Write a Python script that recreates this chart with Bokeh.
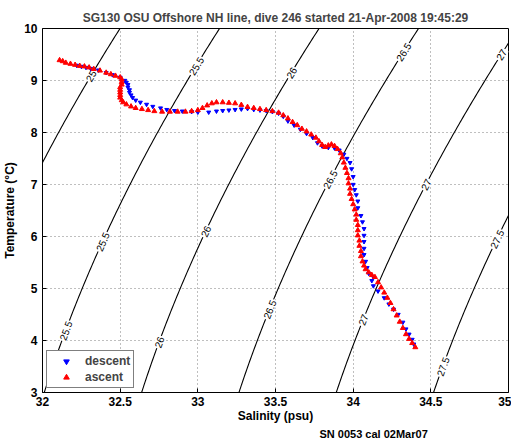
import math
from bokeh.plotting import figure
from bokeh.models import Range1d, FixedTicker, Title
from bokeh.core.properties import value
from bokeh.embed import file_html
from bokeh.resources import INLINE

TITLE = "SG130 OSU Offshore NH line, dive 246 started 21-Apr-2008 19:45:29"
X_LABEL = "Salinity (psu)"
Y_LABEL = "Temperature (\u00b0C)"
NOTE = "SN 0053 cal 02Mar07"
X_TICKS = [32, 32.5, 33, 33.5, 34, 34.5, 35]
X_TICK_LABELS = ["32", "32.5", "33", "33.5", "34", "34.5", "35"]
Y_TICKS = [3, 4, 5, 6, 7, 8, 9, 10]
Y_TICK_LABELS = ["3", "4", "5", "6", "7", "8", "9", "10"]

# descent (blue, triangle down)
descent_S = [32.22, 32.25, 32.28, 32.31, 32.36, 32.41, 32.45, 32.50, 32.53, 32.54, 32.55, 32.55,
             32.56, 32.56, 32.57, 32.58, 32.60, 32.63, 32.67, 32.71, 32.76, 32.80, 32.85, 32.90,
             32.96, 33.00, 33.07, 33.12, 33.16, 33.20, 33.24, 33.28, 33.32, 33.36, 33.40,
             33.44, 33.48, 33.52, 33.55, 33.58, 33.62, 33.66, 33.70, 33.74, 33.77, 33.80, 33.84,
             33.88, 33.91, 33.94, 33.96, 33.98, 33.99, 34.00, 34.00, 34.01, 34.02, 34.03, 34.03,
             34.05, 34.06, 34.07, 34.07, 34.07, 34.07, 34.07, 34.08, 34.09, 34.10, 34.13, 34.12,
             34.13, 34.16, 34.20, 34.23, 34.26, 34.29, 34.32, 34.34, 34.36, 34.38, 34.39]
descent_T = [9.29, 9.27, 9.25, 9.23, 9.20, 9.15, 9.11, 9.06, 9.00, 8.96, 8.92, 8.87,
             8.82, 8.77, 8.72, 8.67, 8.62, 8.58, 8.54, 8.50, 8.47, 8.44, 8.42, 8.41,
             8.40, 8.39, 8.39, 8.41, 8.42, 8.43, 8.44, 8.45, 8.46, 8.44, 8.43,
             8.42, 8.40, 8.37, 8.31, 8.22, 8.14, 8.06, 7.98, 7.90, 7.80, 7.74, 7.71,
             7.70, 7.66, 7.58, 7.50, 7.42, 7.30, 7.15, 7.00, 6.90, 6.80, 6.68, 6.55,
             6.40, 6.28, 6.15, 6.02, 5.90, 5.77, 5.65, 5.52, 5.40, 5.29, 5.22, 5.15,
             5.05, 4.95, 4.82, 4.70, 4.60, 4.50, 4.35, 4.22, 4.12, 4.02, 3.93]

# ascent (red, triangle up)
ascent_S = [32.11, 32.13, 32.15, 32.18, 32.21, 32.24, 32.27, 32.30, 32.33, 32.37, 32.41, 32.44,
            32.47, 32.50, 32.51, 32.51, 32.51, 32.50, 32.50, 32.50, 32.50, 32.50, 32.51, 32.52,
            32.54, 32.57, 32.60, 32.64, 32.68, 32.72, 32.77, 32.82, 32.87, 32.92, 32.96, 33.00,
            33.03, 33.06, 33.09, 33.12, 33.16, 33.20, 33.24, 33.28, 33.32, 33.36, 33.40, 33.44,
            33.48, 33.52, 33.55, 33.58, 33.61, 33.64, 33.67, 33.70, 33.73, 33.76, 33.78, 33.80,
            33.82, 33.84, 33.86, 33.88, 33.90, 33.92, 33.93, 33.94, 33.95, 33.96, 33.97, 33.97,
            33.98, 33.98, 33.99, 34.00, 34.01, 34.02, 34.02, 34.03, 34.03, 34.03, 34.04, 34.04,
            34.05, 34.05, 34.06, 34.07, 34.08, 34.10, 34.12, 34.14, 34.16, 34.18, 34.20, 34.22,
            34.24, 34.26, 34.28, 34.30, 34.32, 34.34, 34.36, 34.38, 34.40]
ascent_T = [9.39, 9.37, 9.34, 9.32, 9.30, 9.28, 9.27, 9.25, 9.22, 9.19, 9.15, 9.12,
            9.09, 9.06, 9.02, 8.97, 8.92, 8.87, 8.82, 8.77, 8.72, 8.67, 8.62, 8.58,
            8.54, 8.50, 8.47, 8.45, 8.43, 8.41, 8.40, 8.40, 8.40, 8.40, 8.41, 8.43,
            8.47, 8.52, 8.56, 8.58, 8.58, 8.57, 8.56, 8.53, 8.49, 8.47, 8.45, 8.43,
            8.41, 8.38, 8.33, 8.27, 8.20, 8.14, 8.07, 8.02, 7.96, 7.90, 7.83, 7.76,
            7.72, 7.75, 7.77, 7.74, 7.68, 7.60, 7.52, 7.42, 7.32, 7.22, 7.12, 7.02,
            6.92, 6.82, 6.72, 6.62, 6.52, 6.42, 6.32, 6.22, 6.12, 6.02, 5.92, 5.82,
            5.72, 5.62, 5.52, 5.44, 5.37, 5.31, 5.26, 5.22, 5.12, 5.02, 4.92, 4.82,
            4.72, 4.60, 4.48, 4.36, 4.24, 4.12, 4.03, 3.95, 3.87]

# isopycnal (sigma-theta) levels and their inline label temperatures
SIGMA_LEVELS = [25, 25.5, 26, 26.5, 27, 27.5]
LABEL_SIGMA = [25, 25.5, 25.5, 25.5, 26, 26, 26, 26.5, 26.5, 26.5, 27, 27, 27, 27.5, 27.5]
LABEL_T = [9.09, 9.28, 5.9, 4.19, 9.15, 6.1, 3.97, 9.55, 7.1, 4.6, 9.5, 7.0, 4.4, 5.95, 3.5]
T_GRID = [2.5 + 0.05 * i for i in range(170)]

X_MIN, X_MAX, Y_MIN, Y_MAX = 32, 35, 3, 10
FRAME_W, FRAME_H = 466, 369
FONT = "Liberation Sans"


def sigma0(S, T):
    rho_w = (999.842594 + 6.793952e-2 * T - 9.095290e-3 * T ** 2 + 1.001685e-4 * T ** 3
             - 1.120083e-6 * T ** 4 + 6.536332e-9 * T ** 5)
    A = 8.24493e-1 - 4.0899e-3 * T + 7.6438e-5 * T ** 2 - 8.2467e-7 * T ** 3 + 5.3875e-9 * T ** 4
    B = -5.72466e-3 + 1.0227e-4 * T - 1.6546e-6 * T ** 2
    C = 4.8314e-4
    return rho_w + A * S + B * S ** 1.5 + C * S ** 2 - 1000.0


def salinity_for(sig, T):
    lo, hi = 25.0, 40.0
    for _ in range(60):
        mid = 0.5 * (lo + hi)
        if sigma0(mid, T) < sig:
            lo = mid
        else:
            hi = mid
    return 0.5 * (lo + hi)


p = figure(width=511, height=439, output_backend="svg", toolbar_location=None,
           x_range=Range1d(X_MIN, X_MAX), y_range=Range1d(Y_MIN, Y_MAX),
           min_border_left=34, min_border_right=3, min_border_top=28, min_border_bottom=40)

p.title.text = TITLE
p.title.text_font = FONT
p.title.text_font_size = "12px"
p.title.text_font_style = "bold"
p.title.align = "center"
p.title.standoff = 8

p.outline_line_color = "black"
p.outline_line_width = 1
p.background_fill_color = "white"
p.border_fill_color = "white"

for ax, ticks, labels in ((p.xaxis[0], X_TICKS, X_TICK_LABELS), (p.yaxis[0], Y_TICKS, Y_TICK_LABELS)):
    ax.ticker = FixedTicker(ticks=ticks)
    ax.major_label_overrides = {t: l for t, l in zip(ticks, labels)}
    ax.major_label_text_font = FONT
    ax.major_label_text_font_size = "12px"
    ax.major_label_text_font_style = "bold"
    ax.major_label_text_color = "black"
    ax.axis_label_text_font = FONT
    ax.axis_label_text_font_size = "12px"
    ax.axis_label_text_font_style = "bold"
    ax.axis_label_text_color = "black"
    ax.major_tick_in = 4
    ax.major_tick_out = 0
    ax.minor_tick_line_color = None
    ax.axis_line_color = None
    ax.major_tick_line_color = "black"
p.xaxis[0].axis_label = X_LABEL
p.yaxis[0].axis_label = Y_LABEL
p.xaxis[0].major_label_standoff = 4
p.xaxis[0].axis_label_standoff = 0
p.yaxis[0].major_label_standoff = 5
p.yaxis[0].axis_label_standoff = 4

note = Title(text=NOTE, align="left", offset=277, standoff=0, text_font=FONT,
             text_font_size="11px", text_font_style="bold", text_color="black")
p.add_layout(note, "below")

p.xgrid.ticker = FixedTicker(ticks=X_TICKS)
p.ygrid.ticker = FixedTicker(ticks=Y_TICKS)
for g in (p.xgrid[0], p.ygrid[0]):
    g.grid_line_color = "#7f7f7f"
    g.grid_line_dash = "1 3"
    g.grid_line_width = 1

# isopycnals
for sig in SIGMA_LEVELS:
    xs = [salinity_for(sig, t) for t in T_GRID]
    p.line(xs, T_GRID, line_color="black", line_width=1.1)

# inline contour labels
ppS = FRAME_W / (X_MAX - X_MIN)
ppT = FRAME_H / (Y_MAX - Y_MIN)
lx, ly, lt, la = [], [], [], []
for sig, t in zip(LABEL_SIGMA, LABEL_T):
    s = salinity_for(sig, t)
    ds = salinity_for(sig, t + 0.05) - salinity_for(sig, t - 0.05)
    ang = math.atan2(0.1 * ppT, ds * ppS)
    lx.append(s)
    ly.append(t)
    lt.append(("%g" % sig))
    la.append(ang)
p.text(x=lx, y=ly, text=lt, angle=la, text_font=value(FONT), text_font_size="10px",
       text_align="center", text_baseline="middle", text_color="black",
       background_fill_color="white", padding=1)

# data
r_d = p.scatter(descent_S, descent_T, marker="inverted_triangle", size=4,
                fill_color="#0000ff", line_color="#0000ff", legend_label="descent")
r_a = p.scatter(ascent_S, ascent_T, marker="triangle", size=5,
                fill_color="#ff0000", line_color="#ff0000", legend_label="ascent")

lg = p.legend[0]
lg.location = "bottom_left"
lg.margin = 4
lg.padding = 3
lg.spacing = 2
lg.glyph_width = 32
lg.glyph_height = 14
lg.label_height = 14
lg.label_standoff = 3
lg.label_text_font = FONT
lg.label_text_font_size = "12px"
lg.label_text_font_style = "bold"
lg.border_line_color = "black"
lg.border_line_width = 1.2
lg.background_fill_alpha = 1

open("out.html", "w").write(file_html(p, INLINE))
